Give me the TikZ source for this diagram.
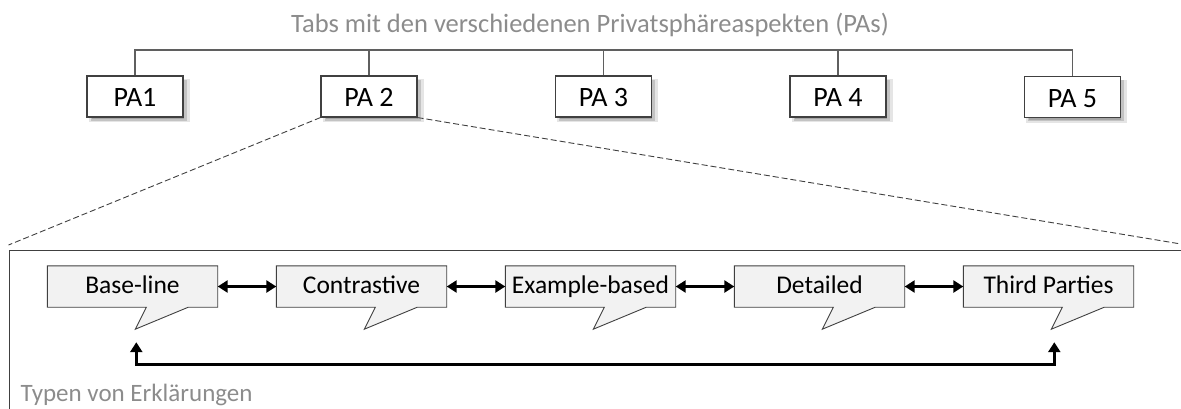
\documentclass[tikz,border=0pt]{standalone}
\usepackage{fontspec}
\setmainfont{Carlito}
\usetikzlibrary{arrows.meta,shadows,calc}
\definecolor{edge}{HTML}{404040}
\definecolor{treeline}{HTML}{5F5F5F}
\definecolor{caption}{HTML}{8C8C8C}
\definecolor{bubble}{HTML}{F2F2F2}
\pgfdeclarelayer{bg}
\pgfsetlayers{bg,main}

% speech-bubble outline behind a callout node; #2 names the pointer tip
\newcommand\bubbleoutline[2]{%
  \coordinate (#2) at ($(#1.south west)+(88,22)$);
  \begin{pgfonlayer}{bg}
    \draw[bubbleline] (#1.north west) -- (#1.north east) -- (#1.south east)
      -- ($(#1.south west)+(141,0)$) -- (#2) -- ($(#1.south west)+(99,0)$)
      -- (#1.south west) -- cycle;
  \end{pgfonlayer}}

\begin{document}
\begin{tikzpicture}[x=1pt,y=-1pt,
  softshadow/.style={
    general shadow={fill=black, opacity=0.10, shadow xshift=4pt, shadow yshift=-4pt, shadow scale=1.05},
    general shadow={fill=black, opacity=0.15, shadow xshift=3.5pt, shadow yshift=-3.5pt},
    general shadow={fill=black, opacity=0.15, shadow xshift=3pt, shadow yshift=-3pt, shadow scale=0.96}},
  tabbox/.style={draw=edge, line width=1.1pt, fill=white, minimum width=96pt,
    minimum height=41pt, inner sep=0pt, text height=20.5pt, text depth=0pt,
    font=\fontsize{28}{32}\selectfont, softshadow},
  callout/.style={minimum width=170pt, minimum height=41pt, inner sep=0pt,
    text height=18pt, text depth=4pt, font=\fontsize{25.5}{30}\selectfont},
  bubbleline/.style={draw=edge, line width=0.9pt, fill=bubble, line join=miter},
  tree/.style={draw=treeline, line width=1.3pt},
  zoomline/.style={draw=edge, line width=0.9pt, dash pattern=on 6pt off 3pt},
  link/.style={line width=2.6pt, {Triangle[length=10pt,width=12pt]}-{Triangle[length=10pt,width=12pt]}},
  note/.style={text=caption, inner sep=0pt}
]
\useasboundingbox (0,0) rectangle (1181,408);
\clip (0,0) rectangle (1181,408);

% tab row
\node[note, anchor=base, font=\fontsize{26.5}{30}\selectfont] (title) at (590,32)
  {Tabs mit den verschiedenen Privatsphäreaspekten (PAs)};
\coordinate (bar) at (590,50);
\node[tabbox] (pa1) at (135,96.5) {PA1};
\node[tabbox] (pa2) at (369,96.5) {PA 2};
\node[tabbox] (pa3) at (603.5,96.5) {PA 3};
\node[tabbox] (pa4) at (838,96.5) {PA 4};
\node[tabbox] (pa5) at (1072.5,97) {PA 5};
\draw[tree] (pa1.north) |- (bar) -| (pa5.north);
\foreach \t in {pa2,pa3,pa4} \draw[tree] (\t.north) -- (\t.north |- bar);

% frame of the explanation types
\node[draw=edge, line width=1.2pt, minimum width=1200pt, minimum height=200pt,
  inner sep=0pt, anchor=north west] (frame) at (8.5,250) {};
\node[note, anchor=base west, font=\fontsize{25}{30}\selectfont] (types)
  at ($(frame.north west)+(12,151)$) {Typen von Erklärungen};

% zoom lines from the second tab
\coordinate (zoomL) at ($(frame.north west)+(0,-5)$);
\coordinate (zoomR) at (1181,244);
\draw[zoomline] (pa2.south west) -- (zoomL);
\draw[zoomline] (pa2.south east) -- (zoomR);

% explanation types
\node[callout] (c1) at (132.5,286.5) {Base-line};
\node[callout] (c2) at (361.5,286.5) {Contrastive};
\node[callout] (c3) at (590.5,286.5) {Example-based};
\node[callout] (c4) at (819.5,286.5) {Detailed};
\node[callout] (c5) at (1048.5,286.5) {Third Parties};
\bubbleoutline{c1}{t1}
\bubbleoutline{c2}{t2}
\bubbleoutline{c3}{t3}
\bubbleoutline{c4}{t4}
\bubbleoutline{c5}{t5}

\draw[link] (c1.east) -- (c2.west);
\draw[link] (c2.east) -- (c3.west);
\draw[link] (c3.east) -- (c4.west);
\draw[link] (c4.east) -- (c5.west);
\draw[link, line join=miter] ($(t1)+(1,13)$) -- ++(0,22) -| ($(t5)+(3,13)$);
\end{tikzpicture}
\end{document}
